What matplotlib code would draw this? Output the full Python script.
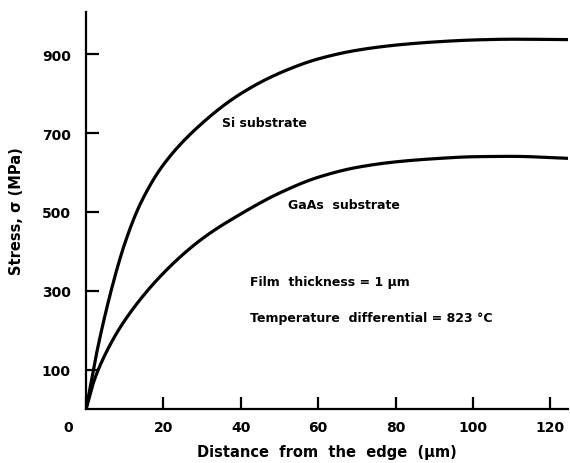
import numpy as np
import matplotlib
matplotlib.use("Agg")
import matplotlib.pyplot as plt
from matplotlib.transforms import ScaledTranslation

# Data
si_x = [0, 3, 7, 10, 14, 20, 30, 40, 50, 60, 70, 80, 90, 100, 110, 124.5]
si_y = [0, 155, 320, 420, 520, 620, 725, 800, 852, 888, 910, 923, 931, 936, 938, 937]
gaas_x = [0, 2, 5, 10, 20, 30, 40, 50, 60, 70, 80, 90, 100, 110, 124.5]
gaas_y = [0, 70, 140, 225, 345, 432, 495, 548, 588, 613, 627, 635, 640, 641, 636]

xticks = [0, 20, 40, 60, 80, 100, 120]
yticks = [100, 300, 500, 700, 900]

plt.rcParams['font.family'] = ['DejaVu Sans']
plt.rcParams['font.weight'] = 'bold'

fig = plt.figure(figsize=(5.7, 4.64), dpi=100)
ax = fig.add_axes([0.151, 0.116, 0.845, 0.856])

def smooth(xs, ys):
    xs = np.asarray(xs, float); ys = np.asarray(ys, float)
    xx = np.linspace(xs.min(), xs.max(), 400)
    # monotone cubic (PCHIP) interpolation for a smooth drawn curve
    h = np.diff(xs); d = np.diff(ys) / h
    m = np.zeros_like(ys)
    for k in range(1, len(xs) - 1):
        if d[k-1] * d[k] > 0:
            w1 = 2*h[k] + h[k-1]; w2 = h[k] + 2*h[k-1]
            m[k] = (w1 + w2) / (w1/d[k-1] + w2/d[k])
    m[0] = d[0]; m[-1] = d[-1]
    idx = np.clip(np.searchsorted(xs, xx) - 1, 0, len(xs) - 2)
    t = (xx - xs[idx]) / h[idx]
    h00 = 2*t**3 - 3*t**2 + 1; h10 = t**3 - 2*t**2 + t
    h01 = -2*t**3 + 3*t**2; h11 = t**3 - t**2
    yy = h00*ys[idx] + h10*h[idx]*m[idx] + h01*ys[idx+1] + h11*h[idx]*m[idx+1]
    return xx, yy

ax.plot(*smooth(si_x, si_y), color='black', lw=2.3, solid_capstyle='round')
ax.plot(*smooth(gaas_x, gaas_y), color='black', lw=2.3, solid_capstyle='round')

ax.set_xlim(0, 124.5)
ax.set_ylim(0, 1007)
ax.spines['top'].set_visible(False)
ax.spines['right'].set_visible(False)
ax.spines['left'].set_linewidth(1.6)
ax.spines['bottom'].set_linewidth(1.6)

ax.set_xticks(xticks)
ax.set_yticks(yticks)
ax.set_xticklabels([str(v) for v in xticks])
ax.set_yticklabels([str(v) for v in yticks])
ax.tick_params(direction='in', length=9, width=1.6, labelsize=10)
ax.tick_params(axis='x', pad=8)
ax.tick_params(axis='y', pad=11)
for lab in ax.get_xticklabels() + ax.get_yticklabels():
    lab.set_fontweight('bold')
# shift the "0" label left like the reference
zero = ax.get_xticklabels()[0]
zero.set_transform(zero.get_transform() + ScaledTranslation(-0.18, 0, fig.dpi_scale_trans))

ax.set_xlabel('Distance  from  the  edge  (μm)', fontsize=10.5, fontweight='bold', labelpad=7)
ax.set_ylabel('Stress, σ (MPa)', fontsize=10.5, fontweight='bold', labelpad=13)

ax.text(46, 727, 'Si substrate', fontsize=9, fontweight='bold', ha='center', va='center')
ax.text(66.6, 519, 'GaAs  substrate', fontsize=9, fontweight='bold', ha='center', va='center')
ax.text(42.5, 323, 'Film  thickness = 1 μm', fontsize=9, fontweight='bold', ha='left', va='center')
ax.text(42.5, 232, 'Temperature  differential = 823 °C', fontsize=9, fontweight='bold', ha='left', va='center')

fig.savefig('out.png', dpi=100)
